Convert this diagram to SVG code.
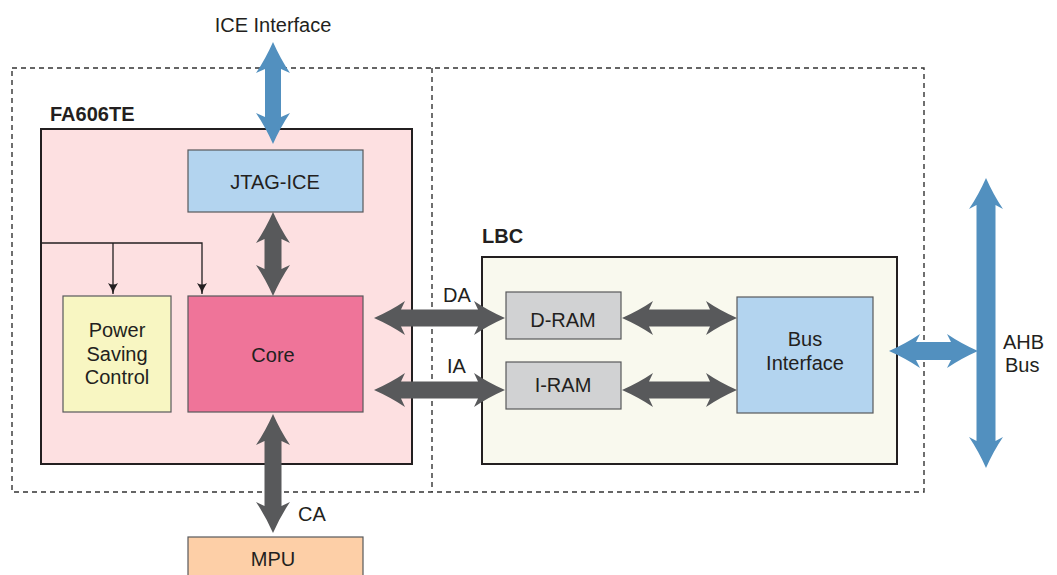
<svg xmlns="http://www.w3.org/2000/svg" width="1057" height="575" viewBox="0 0 1057 575">
<defs>
<style>
text{font-family:"Liberation Sans",Arial,sans-serif;font-size:20px;fill:#231f20}
.c{text-anchor:middle}
.b{font-weight:bold}
.dash{fill:none;stroke:#333333;stroke-width:1.4;stroke-dasharray:5 4}
.big{stroke:#231f20;stroke-width:2}
.box{stroke:#58595b;stroke-width:1.2}
.gray{fill:#58595b}
.blue{fill:#5290bf}
.thin{fill:none;stroke:#231f20;stroke-width:1.3}
</style>
<marker id="ah" markerWidth="12" markerHeight="12" refX="6" refY="11" orient="0" markerUnits="userSpaceOnUse">
<path d="M1,0 Q5,6 6,11 Q7,6 11,0 Q6,3 1,0 Z" fill="#231f20"/>
</marker>
</defs>
<rect width="1057" height="575" fill="#ffffff"/>

<g id="boundaries">
<rect class="dash" x="12" y="68" width="912" height="424"/>
<line class="dash" x1="432" y1="68" x2="432" y2="492"/>
</g>

<g id="fa606te">
<rect class="big" x="41" y="129" width="371" height="335" fill="#fde0e1"/>
<text class="b" x="50" y="121" font-size="21">FA606TE</text>
</g>

<g id="jtag">
<rect class="box" x="188" y="150" width="175" height="62" fill="#b3d4ef"/>
<text class="c" x="275" y="189">JTAG-ICE</text>
</g>

<g id="core">
<rect class="box" x="188" y="296" width="175" height="116" fill="#ef7499"/>
<text class="c" x="273" y="362">Core</text>
</g>

<g id="psc">
<rect class="box" x="63" y="296" width="108" height="116" fill="#f8f6c2"/>
<text class="c" x="117" y="337">Power</text>
<text class="c" x="117" y="361">Saving</text>
<text class="c" x="117" y="384">Control</text>
</g>

<g id="mpu">
<rect class="box" x="188" y="537" width="175" height="45" fill="#fdcfa7"/>
<text class="c" x="273" y="566">MPU</text>
</g>

<g id="lbc">
<rect class="big" x="482" y="257" width="415" height="207" fill="#f9f9ee"/>
<text class="b" x="482" y="243" font-size="21">LBC</text>
</g>

<g id="dram">
<rect class="box" x="506" y="292" width="115" height="47" fill="#d1d2d3"/>
<text class="c" x="563" y="327">D-RAM</text>
</g>

<g id="iram">
<rect class="box" x="506" y="362" width="115" height="47" fill="#d1d2d3"/>
<text class="c" x="563" y="392">I-RAM</text>
</g>

<g id="busif">
<rect class="box" x="737" y="297" width="136" height="116" fill="#b3d4ef"/>
<text class="c" x="805" y="346">Bus</text>
<text class="c" x="805" y="370">Interface</text>
</g>

<g id="connectors">
<polyline class="thin" points="41,243 202,243 202,294" marker-end="url(#ah)"/>
<line class="thin" x1="113" y1="243" x2="113" y2="294" marker-end="url(#ah)"/>

<!-- ICE interface (blue vertical) -->
<path class="blue" d="M273,42 Q280.5,59 290,73 L281,69 L281,117 L290,113 Q280.5,127 273,144 Q265.5,127 256,113 L265,117 L265,69 L256,73 Q265.5,59 273,42 Z"/>
<!-- JTAG - Core -->
<path class="gray" d="M273,212 Q280.5,229 290,243 L281.5,239 L281.5,269 L290,265 Q280.5,279 273,296 Q265.5,279 256,265 L264.5,269 L264.5,239 L256,243 Q265.5,229 273,212 Z"/>
<!-- Core - MPU -->
<path class="gray" d="M273,414 Q280.5,431 290,445 L281.5,441 L281.5,506 L290,502 Q280.5,516 273,533 Q265.5,516 256,502 L264.5,506 L264.5,441 L256,445 Q265.5,431 273,414 Z"/>
<!-- DA -->
<path class="gray" d="M374,318 Q391,310.5 405,301 L401,309.5 L478,309.5 L474,301 Q488,310.5 505,318 Q488,325.5 474,335 L478,326.5 L401,326.5 L405,335 Q391,325.5 374,318 Z"/>
<!-- IA -->
<path class="gray" d="M374,390 Q391,382.5 405,373 L401,381.5 L478,381.5 L474,373 Q488,382.5 505,390 Q488,397.5 474,407 L478,398.5 L401,398.5 L405,407 Q391,397.5 374,390 Z"/>
<!-- D-RAM - Bus -->
<path class="gray" d="M622,318 Q639,310.5 653,301 L649,309.5 L710,309.5 L706,301 Q720,310.5 737,318 Q720,325.5 706,335 L710,326.5 L649,326.5 L653,335 Q639,325.5 622,318 Z"/>
<!-- I-RAM - Bus -->
<path class="gray" d="M622,390 Q639,382.5 653,373 L649,381.5 L710,381.5 L706,373 Q720,382.5 737,390 Q720,397.5 706,407 L710,398.5 L649,398.5 L653,407 Q639,397.5 622,390 Z"/>
<!-- Bus Interface - AHB -->
<path class="blue" d="M889,351 Q906,343.5 920,334 L916,342 L951,342 L947,334 Q961,343.5 978,351 Q961,358.5 947,368 L951,360 L916,360 L920,368 Q906,358.5 889,351 Z"/>
<!-- AHB bus -->
<path class="blue" d="M986,178 Q993.5,195 1003,209 L995.5,205 L995.5,441 L1003,437 Q993.5,451 986,468 Q978.5,451 969,437 L976.5,441 L976.5,205 L969,209 Q978.5,195 986,178 Z"/>
</g>

<g id="labels">
<text class="c" x="273" y="32">ICE Interface</text>
<text x="443" y="302">DA</text>
<text x="447" y="373">IA</text>
<text x="298" y="521">CA</text>
<text x="1003" y="349">AHB</text>
<text x="1005" y="372">Bus</text>
</g>
</svg>
